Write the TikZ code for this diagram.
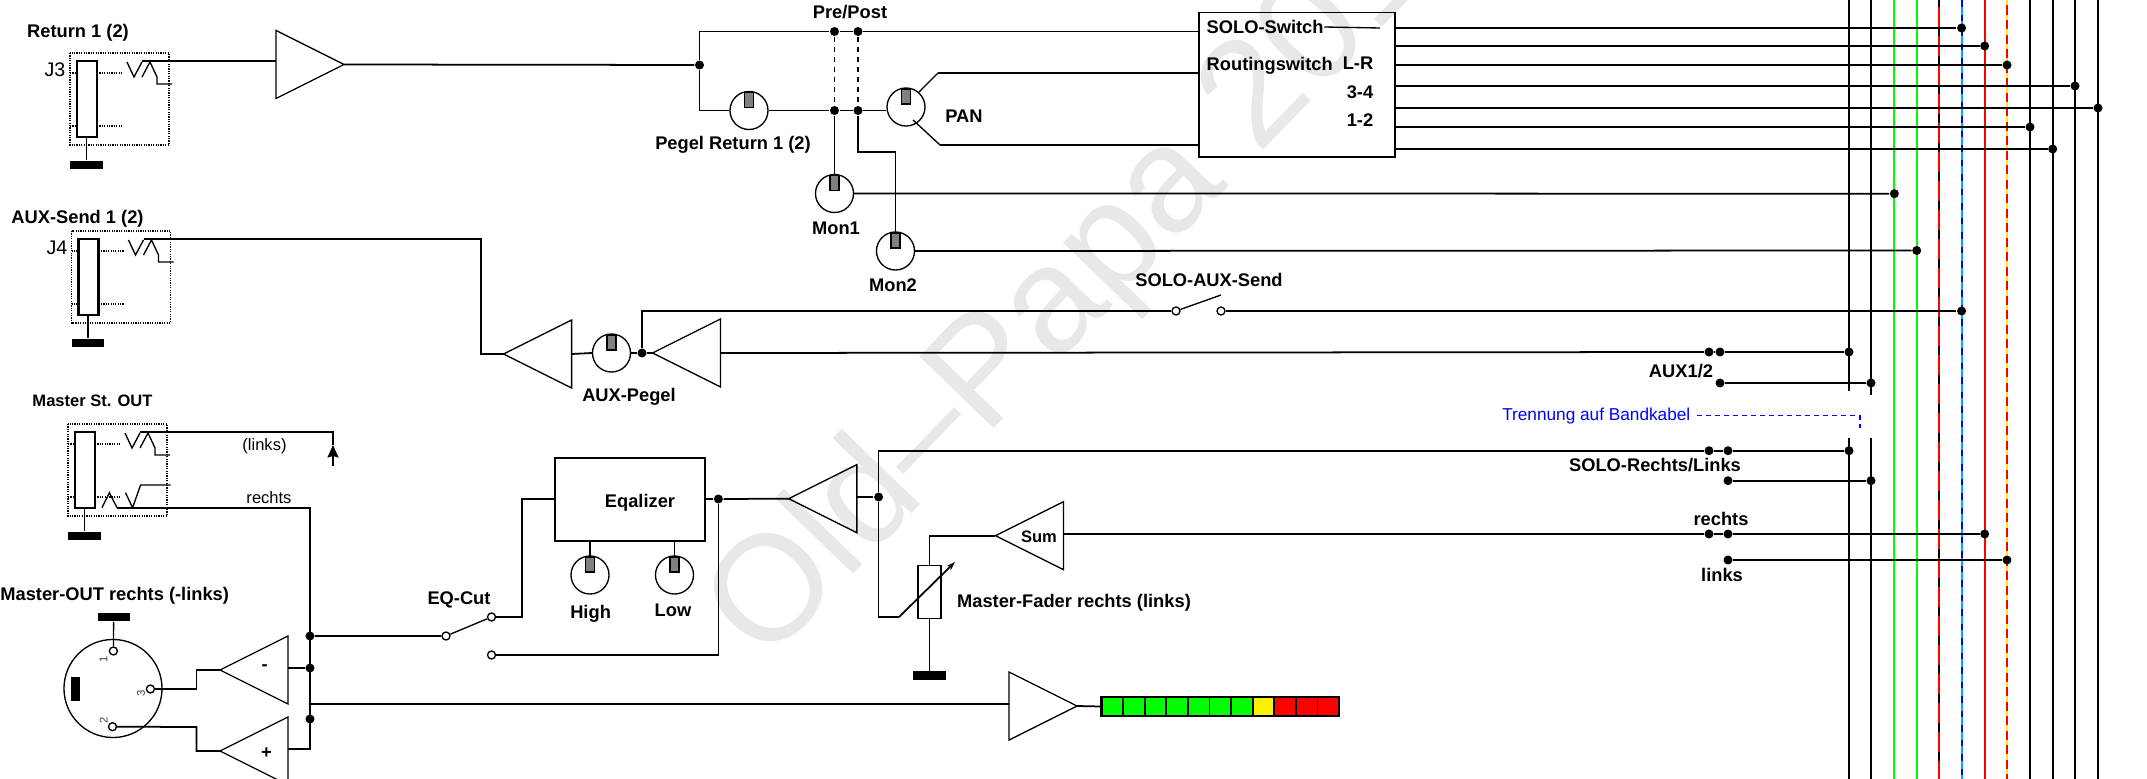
\documentclass[tikz,border=0pt]{standalone}
\usepackage{fontspec}
\setmainfont{Liberation Sans}
\usepackage{tikz}
\usetikzlibrary{arrows.meta, positioning, shapes.geometric}
\colorlet{colorMark}{black!9}
\colorlet{colorKnob}{black!50}
\colorlet{colorSplit}{blue}
\tikzset{
  wire/.style={line width=0.5pt},
  thin line/.style={line width=0.38pt},
  dense dots/.style={line width=0.32pt, dash pattern=on 0.012cm off 0.012cm},
  bus/.style={line width=0.58pt},
  lab/.style={inner sep=0pt, font=\bfseries\fontsize{5.2}{6}\selectfont},
  labs/.style={inner sep=0pt, font=\bfseries\fontsize{4.7}{6}\selectfont},
  txt/.style={inner sep=0pt, font=\fontsize{4.7}{6}\selectfont},
  pin/.style={inner sep=0pt, rotate=90, text=black!75, font=\fontsize{3.2}{4}\selectfont},
  dot/.style={circle, fill=black, inner sep=0pt, minimum size=0.09cm},
  contact/.style={circle, draw, fill=white, thin line, inner sep=0pt, minimum size=0.08cm},
  gnd/.style={rectangle, fill=black, inner sep=0pt, minimum width=0.32cm, minimum height=0.085cm},
  cell/.style={rectangle, draw, wire, inner sep=0pt, minimum width=0.216cm, minimum height=0.196cm},
  box/.style={rectangle, draw, thin line, inner sep=0pt},
  amp/.style={isosceles triangle, isosceles triangle stretches, draw, thin line, inner sep=0pt, outer sep=0pt, minimum width=0.68cm, minimum height=0.68cm},
  ampl/.style={amp, shape border rotate=180},
  pot/.pic={
    \node[circle, draw, thin line, inner sep=0pt, minimum size=0.38cm] (-c) at (0,0) {};
    \draw[thin line, fill=colorKnob] (-4.5,-18) rectangle (4.5,-3);
    \coordinate (-k) at (0,-18);
  },
  jack/.pic={
    \draw[dense dots] (0,0) rectangle (99,92);
    \draw[line width=0.65pt] (7,8) rectangle (27,84);
    \draw[dense dots] (0,20) -- (7,20) (27,20) -- (53,20) (0,73) -- (7,73) (27,73) -- (53,73);
    \draw[thin line] (57,9) -- (64,24) -- (72,9) (72,24) -- (80,9) -- (87,24) -- (87,31) -- (102,31);
    \coordinate (-tip) at (72,8);
    \coordinate (-s) at (16.5,84);
    \node[gnd] (-g) at (16.5,112) {};
    \draw[thin line] (-s) -- (-g);
  },
}
\begin{document}
\begin{tikzpicture}[x=0.01cm, y=-0.01cm, >={Stealth[length=0.125cm, width=0.11cm, inset=0.015cm]}]
\useasboundingbox (0,0) rectangle (2147,779);
\clip (0,0) rectangle (2147,779);
\node[rotate=46, anchor=base west, inner sep=0pt, text=colorMark, font=\fontsize{42.7}{50}\selectfont] (mark) at (765,666) {Old–Papa 2011};
\foreach \i/\x in {1/1849,2/1871,3/1894.4,4/1916.7,5/1939.3,6/1961.6,7/1984.7,8/2007,9/2030,10/2052.7,11/2075,12/2098} {
  \coordinate (t\i) at (\x,0);
  \coordinate (u\i) at (\x,779);
}
\coordinate (g1) at (1849,391);
\coordinate (h1) at (1849,438);
\coordinate (g2) at (1871,395);
\coordinate (h2) at (1871,438);
\draw[bus] (t1) -- (g1) (h1) -- (u1);
\draw[bus] (t2) -- (g2) (h2) -- (u2);
\draw[bus, green] (t3) -- (u3);
\draw[bus, green] (t4) -- (u4);
\draw[bus] (t5) -- (u5);
\draw[bus, red, line width=0.62pt, dash pattern=on 0.195cm off 0.095cm, dash phase=0.22cm] (t5) -- (u5);
\draw[bus, cyan, line width=0.62pt] (t6) -- (u6);
\draw[bus, blue, line width=0.62pt, dash pattern=on 0.065cm off 0.08cm] (t6) -- (u6);
\draw[bus, red] (t7) -- (u7);
\draw[bus, red, line width=0.62pt] (t8) -- (u8);
\draw[bus, yellow, line width=0.62pt, dash pattern=on 0.055cm off 0.09cm] (t8) -- (u8);
\foreach \i in {9,10,11,12} {
  \draw[bus] (t\i) -- (u\i);
}
\pic (j3) at (70,53) {jack};
\pic (j4) at (71.5,231) {jack};
\pic (j5) at (68,424) {jack};
\node[amp, anchor=apex] (a1) at (344,64.5) {};
\node[ampl, anchor=apex] (a2) at (503.6,354) {};
\node[ampl, anchor=apex] (a3) at (652.5,353) {};
\node[ampl, anchor=apex] (a4) at (788.8,498.7) {};
\node[ampl, anchor=apex] (a5) at (995.4,535.7) {};
\node[amp, anchor=apex] (a6) at (1077,706) {};
\node[ampl, anchor=apex] (a7) at (220,670) {};
\node[ampl, anchor=apex] (a8) at (220,751) {};
\pic (p1) at (749,110.5) {pot};
\pic (p2) at (906,107) {pot};
\pic (p3) at (834.5,193.5) {pot};
\pic (p4) at (895.5,251) {pot};
\pic (p5) at (611.5,353) {pot};
\pic (p6) at (590,575) {pot};
\pic (p7) at (674.5,575) {pot};
\node[dot] (d1) at (699.5,65) {};
\node[dot] (d2) at (834.5,31.5) {};
\node[dot] (d3) at (858,31.5) {};
\node[dot] (d4) at (834.5,110.5) {};
\node[dot] (d5) at (858,110.5) {};
\node[dot] (d6) at (642,353) {};
\node[dot] (d7) at (718.4,499) {};
\node[dot] (d8) at (878.6,497) {};
\node[dot] (d11) at (310,636) {};
\node[dot] (d12) at (310,668) {};
\node[dot] (d13) at (310,719) {};
\node[box, minimum width=1.96cm, minimum height=1.445cm] (router) at (1297,84.75) {};
\node[box, minimum width=1.5cm, minimum height=0.83cm] (eq) at (630,499.5) {};
\node[box, fill=white, minimum width=0.23cm, minimum height=0.534cm] (fader) at (929.5,592) {};
\node[gnd] (g3) at (929.5,675.5) {};
\node[gnd] (g4) at (113.7,617) {};
\node[circle, draw, thin line, inner sep=0pt, minimum size=0.98cm] (xlr) at (113,688.5) {};
\node[rectangle, fill=black, inner sep=0pt, minimum width=0.08cm, minimum height=0.24cm] (xlrbar) at (75.5,688.7) {};
\node[contact] (k1) at (446,636) {};
\node[contact] (k2) at (491.5,617) {};
\node[contact] (k3) at (491.5,655) {};
\node[contact] (k4) at (1176,311) {};
\node[contact] (k5) at (1221,311) {};
\node[contact] (k6) at (113.4,651) {};
\node[contact] (k7) at (112.5,726.7) {};
\node[contact] (k8) at (150.4,689) {};
\foreach \i/\x/\y in {1/1961.6/28,2/1984.7/46,3/2007/65,4/2075/86,5/2098/108,6/2030/127,7/2052.7/149} {
  \node[dot] (r\i) at (\x,\y) {};
  \draw[wire] (router.east |- r\i) -- (r\i);
}
\node[dot] (m1) at (1894.4,193.7) {};
\node[dot] (m2) at (1916.7,250.5) {};
\node[dot] (m3) at (1961.6,311) {};
\node[dot] (x1) at (1709,352) {};
\node[dot] (x2) at (1720,352) {};
\node[dot] (x3) at (1849,352) {};
\node[dot] (x4) at (1720,383) {};
\node[dot] (x5) at (1871,383) {};
\node[dot] (s1) at (1709,450.7) {};
\node[dot] (s2) at (1728,450.7) {};
\node[dot] (s3) at (1849,450.7) {};
\node[dot] (s4) at (1728,480.7) {};
\node[dot] (s5) at (1871,480.7) {};
\node[dot] (v1) at (1709,534) {};
\node[dot] (v2) at (1728,534) {};
\node[dot] (v3) at (1984.7,534) {};
\node[dot] (v4) at (1728,560) {};
\node[dot] (v5) at (2007,560) {};
\foreach \i/\c in {0/green,1/green,2/green,3/green,4/green,5/green,6/green,7/yellow,8/red,9/red,10/red} {
  \node[cell, fill=\c] (b\i) at ({1112.3+\i*21.6},706.5) {};
}
\draw[line width=0.6pt] (1101.5,696.7) rectangle (1339,716.3);
\coordinate (c1) at (938,73);
\coordinate (c2) at (940,145);
\coordinate (c3) at (913,120);
\coordinate (c4) at (1221,295);
\coordinate (c5) at (333,466);
\coordinate (c6) at (333,445);
\coordinate (c7) at (117,507.7);
\coordinate (c8) at (310,507.7);
\coordinate (c9) at (310,749);
\coordinate (c10) at (310,703.7);
\coordinate (c11) at (522,499);
\coordinate (c12) at (899,617);
\coordinate (c13) at (955,562);
\coordinate (c14) at (196.4,689);
\coordinate (c15) at (196.4,727);
\coordinate (c16) at (481,239);
\coordinate (c17) at (481,354);
\draw[wire] (j3-tip) -- (a1.lower side |- j3-tip);
\draw[wire] (a1.apex) -- (d1);
\draw[wire] (d1) |- (d2) -- (d3) -- (router.west |- d3);
\draw[wire] (d1) |- (p1-c.west);
\draw[wire] (p1-c.east) -- (d4) -- (d5) -- (p2-c.west |- d5);
\draw[thin line, dash pattern=on 0.05cm off 0.05cm] (d2) -- (d4);
\draw[thin line, dash pattern=on 0.05cm off 0.05cm] (d3) -- (d5);
\draw[wire] (d4) -- (p3-k);
\draw[wire] (d5) -- ++(0,41.5) -| (p4-k);
\draw[wire] (p3-c.east) -- (m1);
\draw[wire] (p4-c.east) -- (m2);
\draw[thin line] (p2-c.49) -- (c1);
\draw[wire] (c1) -- (c1 -| router.west);
\draw[thin line] (c3) -- (c2);
\draw[wire] (c2) -- (c2 -| router.west);
\draw[wire] (j4-tip) -- (c16) -- (c17) -- (a2.apex);
\draw[wire] (a2.lower side) -- (p5-c.west);
\draw[wire] (p5-c.east) -- (d6) -- (a3.apex);
\draw[wire] (d6) |- (k4);
\draw[thin line] (k4) -- (c4);
\draw[wire] (k5) -- (m3);
\draw[wire] (a3.lower side) -- (x1) -- (x2) -- (x3);
\draw[wire] (x4) -- (x5);
\draw[wire] (j5-tip) -| (c6);
\draw[wire, ->] (c5) -- (c6);
\draw[thin line] (102,507.7) -- (109.4,492.7) -- (c7);
\draw[thin line] (125.5,492.7) -- (132.6,507.7) -- (140.6,485) -- (170.5,485);
\draw[wire] (c7) -- (c8) -- (c9) -- (a8.lower side |- c9);
\draw[wire] (d12) -- (a7.lower side |- d12);
\draw[wire] (c10) -- (a6.lower side |- c10);
\draw[wire] (a6.apex) -- (b0.west);
\draw[wire] (d11) -- (k1);
\draw[thin line] (k1) -- (k2);
\draw[wire] (k2) -| (c11) -- (eq.west |- c11);
\draw[wire] (k3) -| (d7);
\draw[wire] (eq.east |- d7) -- (d7) -- (a4.apex);
\draw[wire] (a4.lower side |- d8) -- (d8);
\draw[thin line] (eq.south -| p6-k) -- (p6-k);
\draw[thin line] (eq.south -| p7-k) -- (p7-k);
\draw[wire] (d8) |- (s1) -- (s2) -- (s3);
\draw[wire] (s4) -- (s5);
\draw[wire] (d8) |- (c12);
\draw[wire, -{Stealth[length=0.09cm, width=0.06cm]}] (c12) -- (c13);
\draw[wire] (fader.north) |- (a5.apex);
\draw[wire] (fader.south) -- (g3);
\draw[wire] (a5.lower side |- v1) -- (v1) -- (v2) -- (v3);
\draw[wire] (v4) -- (v5);
\draw[thin line] (g4) -- (k6);
\draw[wire] (k8) -- (c14) |- (a7.apex);
\draw[wire] (k7) -- (c15) |- (a8.apex);
\node[lab] (l1) at (78,32.5) {Return 1 (2)};
\node[lab] (l2) at (77.5,218.5) {AUX-Send 1 (2)};
\node[labs] (l3) at (92.5,401) {Master St. OUT};
\node[lab] (l4) at (114.7,595.5) {Master-OUT rechts (-links)};
\node[inner sep=0pt, font=\fontsize{5.6}{6}\selectfont] (l5) at (55,70) {J3};
\node[inner sep=0pt, font=\fontsize{5.6}{6}\selectfont] (l6) at (57,248) {J4};
\node[txt] (l7) at (264.5,446.7) {(links)};
\node[txt] (l8) at (269,498) {rechts};
\node[lab] (l9) at (850,12) {Pre/Post};
\node[lab] (l10) at (733,145) {Pegel Return 1 (2)};
\node[lab] (l11) at (964,116) {PAN};
\node[lab, below=0.085cm of p3-c, xshift=0.015cm] (l12) {Mon1};
\node[lab, below=0.075cm of p4-c, xshift=-0.025cm] (l13) {Mon2};
\node[lab] (l14) at (629,396.5) {AUX-Pegel};
\node[lab] (l15) at (1209,280) {SOLO-AUX-Send};
\node[lab, anchor=west] (l16) at (1206,27) {SOLO-Switch};
\draw[thin line] (l16.east) -- (1380,28);
\node[lab, anchor=west] (l17) at (1206,66) {Routingswitch};
\node[lab] (l18) at (1358,63) {L-R};
\node[lab] (l19) at (1360,92) {3-4};
\node[lab] (l20) at (1360,120) {1-2};
\node[lab] (l21) at (1681,371) {AUX1/2};
\node[inner sep=0pt, text=colorSplit, font=\fontsize{4.9}{6}\selectfont] (l22) at (1596.3,415.7) {Trennung auf Bandkabel};
\coordinate[right=0.06cm of l22] (c18);
\coordinate (c19) at (1860,428);
\draw[thin line, colorSplit, dash pattern=on 0.05cm off 0.04cm] (c18) -| (c19);
\node[lab] (l23) at (1655,465) {SOLO-Rechts/Links};
\node[lab] (l24) at (1721,519) {rechts};
\node[lab] (l25) at (1722,575) {links};
\node[lab] (l26) at (640,502.5) {Eqalizer};
\node[lab] (l27) at (590.6,613.5) {High};
\node[lab] (l28) at (673,610.5) {Low};
\node[lab] (l29) at (459,599.5) {EQ-Cut};
\node[labs] (l30) at (1039,536.7) {Sum};
\node[lab] (l31) at (1074,603.2) {Master-Fader rechts (links)};
\node[lab] (l32) at (264.7,668) {-};
\node[lab] (l33) at (266.5,753) {+};
\node[pin] (l34) at (103.6,659) {1};
\node[pin] (l35) at (141,693) {3};
\node[pin] (l36) at (103.6,720) {2};
\end{tikzpicture}
\end{document}
